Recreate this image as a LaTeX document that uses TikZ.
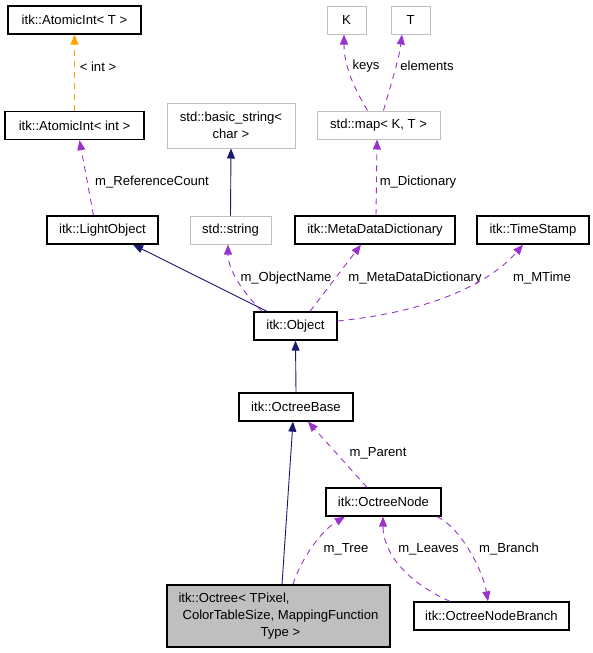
\documentclass[tikz,border=0pt]{standalone}
\usepackage{fontspec}
\setmainfont{Liberation Sans}
\usetikzlibrary{arrows.meta}
\definecolor{edgenavy}{HTML}{191970}
\definecolor{edgepurple}{HTML}{9A32CD}
\definecolor{edgeorange}{HTML}{FFA500}
\definecolor{extgray}{HTML}{BFBFBF}
\begin{document}
\begin{tikzpicture}[x=1pt, y=1pt,
    every node/.style={font=\fontsize{13.1}{17}\selectfont},
    cls/.style={draw=black, line width=1.3pt, fill=white, minimum height=28pt, inner sep=2pt},
    extcls/.style={draw=extgray, line width=1pt, fill=white, minimum height=28pt, inner sep=2pt},
    inherit/.style={draw=edgenavy, line width=0.9pt, -{Triangle[length=10pt,width=8pt]}},
    member/.style={draw=edgepurple, line width=0.9pt, dash pattern=on 6pt off 5pt, -{Triangle[length=10pt,width=8pt]}},
    tmpl/.style={draw=edgeorange, line width=0.9pt, dash pattern=on 6pt off 5pt, -{Triangle[length=10pt,width=8pt]}}]
    \useasboundingbox (0,0) rectangle (593,-653);
    % classes
    \node[cls, minimum width=133pt] (atomT) at (74.5,-20) {itk::AtomicInt< T >};
    \node[cls, minimum width=139pt] (aint) at (74.5,-125.5) {itk::AtomicInt< int >};
    \node[extcls, minimum width=128pt, minimum height=45pt, align=center] (bstr) at (231,-125.5) {std::basic\_string<\\char >};
    \node[extcls, minimum width=39pt] (kk) at (346.5,-20) {K};
    \node[extcls, minimum width=39pt] (tt) at (410.5,-20) {T};
    \node[extcls, minimum width=123pt] (map) at (378.5,-125) {std::map< K, T >};
    \node[cls, minimum width=111pt] (light) at (102.5,-230) {itk::LightObject};
    \node[extcls, minimum width=81pt] (str) at (230.5,-230) {std::string};
    \node[cls, minimum width=160pt] (mdd) at (375,-230) {itk::MetaDataDictionary};
    \node[cls, minimum width=112pt] (tstamp) at (533,-230) {itk::TimeStamp};
    \node[cls, minimum width=83pt] (obj) at (295.5,-326) {itk::Object};
    \node[cls, minimum width=114pt] (base) at (296,-407) {itk::OctreeBase};
    \node[cls, minimum width=115pt] (onode) at (383.5,-502) {itk::OctreeNode};
    \node[cls, minimum width=155pt] (branch) at (491.5,-616) {itk::OctreeNodeBranch};
    \node[cls, fill=extgray, minimum width=223pt, minimum height=62pt, align=left] (octree) at (278.5,-616)
        {itk::Octree< TPixel,\\\hspace*{4pt}ColorTableSize, MappingFunction\\\hspace*{82pt}Type >};
    % top part
    \draw[tmpl] (aint.north) -- (atomT.south);
    \node (lint) at (98,-67) {< int >};
    \draw[member] ([xshift=-9pt]light.north) -- ([xshift=5pt]aint.south);
    \node (lref) at (152,-182) {m\_ReferenceCount};
    \draw[inherit] (str.north) -- (bstr.south);
    \draw[member] ([xshift=-11pt]map.north) .. controls +(-15,25) and +(0,-30) .. ([xshift=-2.5pt]kk.south);
    \node (lkeys) at (366,-66) {keys};
    \draw[member] ([xshift=5pt]map.north) .. controls +(7,25) and +(-3,-25) .. ([xshift=-8.5pt]tt.south);
    \node (lelem) at (427,-66) {elements};
    \draw[member] ([xshift=1pt]mdd.north) -- ([xshift=-1.5pt]map.south);
    \node (ldict) at (418,-182) {m\_Dictionary};
    % itk::Object and its members
    \draw[inherit] ([xshift=-28.5pt]obj.north) -- ([xshift=30.5pt]light.south);
    \draw[member] ([xshift=-33.5pt]obj.north) .. controls +(-20,20) and +(0,-25) .. ([xshift=-2.5pt]str.south);
    \node (lname) at (286,-278) {m\_ObjectName};
    \draw[member] ([xshift=14.5pt]obj.north) -- ([xshift=-14pt]mdd.south);
    \node (lmdd) at (415,-278) {m\_MetaDataDictionary};
    \draw[member] ([yshift=5pt]obj.east) .. controls +(100,10) and +(-30,-35) .. ([xshift=-10pt]tstamp.south);
    \node (lmtime) at (542,-278) {m\_MTime};
    % octree part
    \draw[inherit] (base.north) -- (obj.south);
    \draw[inherit] ([xshift=3.5pt]octree.north) -- ([xshift=-3pt]base.south);
    \draw[member] ([xshift=-16.5pt]onode.north) -- ([xshift=12pt]base.south);
    \node (lparent) at (378,-453) {m\_Parent};
    \draw[member] ([xshift=14.5pt]octree.north) .. controls +(8,25) and +(-25,-15) .. ([xshift=-38.5pt]onode.south);
    \node (ltree) at (346,-549) {m\_Tree};
    \draw[member] ([xshift=-41.5pt]branch.north) .. controls +(-45,20) and +(0,-35) .. ([xshift=-0.5pt]onode.south);
    \node (lleaves) at (428.5,-549) {m\_Leaves};
    \draw[member] ([xshift=53.5pt]onode.south) .. controls +(25,-12) and +(-5,30) .. ([xshift=-3.5pt]branch.north);
    \node (lbranch) at (509,-549) {m\_Branch};
\end{tikzpicture}
\end{document}
